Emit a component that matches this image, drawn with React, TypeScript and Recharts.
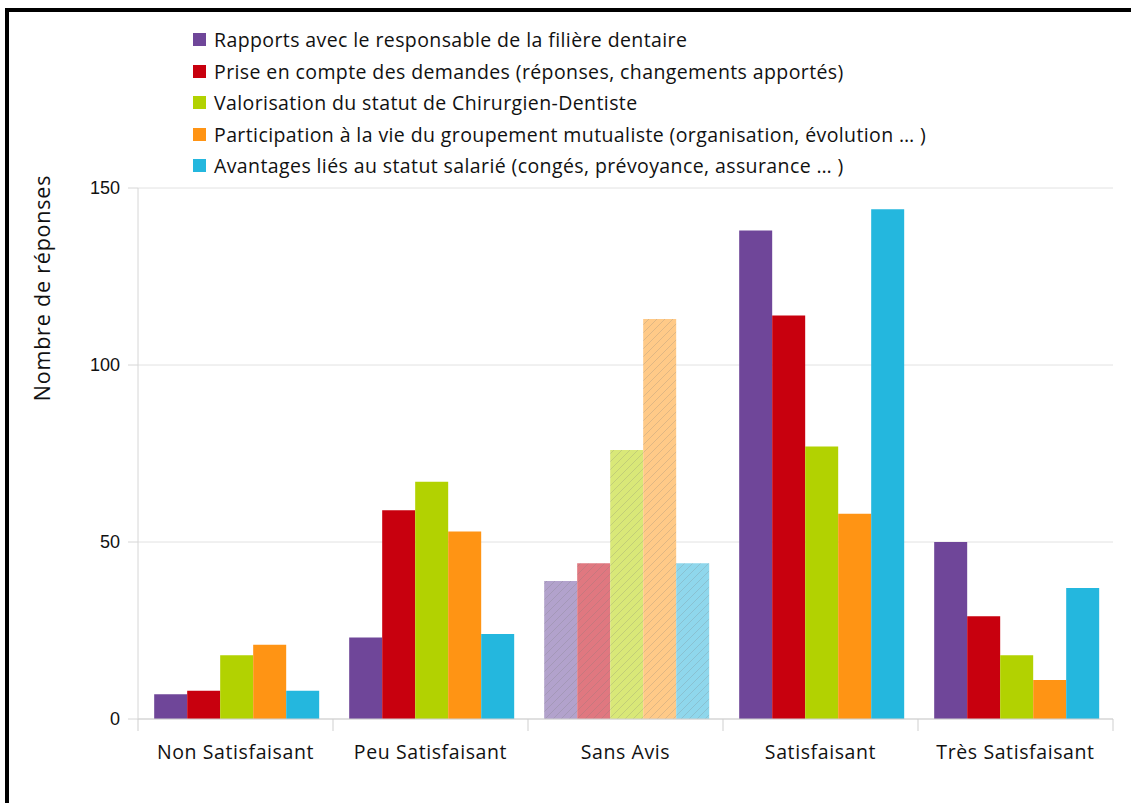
import React from 'react';
import { BarChart, Bar, XAxis, YAxis, CartesianGrid, Cell, Label } from 'recharts';

// Categories (x axis)
const categories = ['Non Satisfaisant', 'Peu Satisfaisant', 'Sans Avis', 'Satisfaisant', 'Très Satisfaisant'];

// Series values, one per category
const rapports = [7, 23, 39, 138, 50];
const priseEnCompte = [8, 59, 44, 114, 29];
const valorisation = [18, 67, 76, 77, 18];
const participation = [21, 53, 113, 58, 11];
const avantages = [8, 24, 44, 144, 37];

// Series labels
const seriesNames = [
  'Rapports avec le responsable de la filière dentaire',
  'Prise en compte des demandes (réponses, changements apportés)',
  'Valorisation du statut de Chirurgien-Dentiste',
  'Participation à la vie du groupement mutualiste (organisation, évolution … )',
  'Avantages liés au statut salarié (congés, prévoyance, assurance … )',
];

const yTicks = [0, 50, 100, 150];

// Category drawn with hatched, faded bars
const neutralCategory = 'Sans Avis';

const colors = ['#6f4699', '#c8000e', '#b2d201', '#ff9414', '#24b7de'];
const fadedColors = ['#b2a2cc', '#e07880', '#d9e878', '#ffca88', '#8fd7ec'];

const seriesKeys = ['s0', 's1', 's2', 's3', 's4'];
const seriesValues = [rapports, priseEnCompte, valorisation, participation, avantages];

const data = categories.map((cat, i) => {
  const row: Record<string, string | number> = { category: cat };
  seriesKeys.forEach((k, j) => {
    row[k] = seriesValues[j][i];
  });
  return row;
});

const FONT = '"Open Sans", Lato, sans-serif';
const TEXT = '#111111';

const WIDTH = 1131;
const HEIGHT = 803;
const MARGIN = { top: 188, right: 18, bottom: 44, left: 78 };
const Y_AXIS_WIDTH = 60;
const BAND = (WIDTH - MARGIN.left - MARGIN.right - Y_AXIS_WIDTH) / categories.length;

const XTick = (props: any) => {
  const { x, y, payload, index } = props;
  const left = x - BAND / 2;
  const right = x + BAND / 2;
  return (
    <g>
      <line x1={left} y1={y - 8} x2={left} y2={y + 4} stroke="#cfcfcf" />
      {index === categories.length - 1 && (
        <line x1={right} y1={y - 8} x2={right} y2={y + 4} stroke="#cfcfcf" />
      )}
      <text
        x={x}
        y={y + 32}
        textAnchor="middle"
        fontFamily={FONT}
        fontSize={19.5}
        letterSpacing={0.6}
        fill={TEXT}
      >
        {payload.value}
      </text>
    </g>
  );
};

export default function App() {
  return (
    <div
      style={{
        position: 'absolute',
        left: 0,
        top: 0,
        width: WIDTH,
        height: HEIGHT,
        background: '#ffffff',
        overflow: 'hidden',
      }}
    >
      {/* frame */}
      <div
        style={{
          position: 'absolute',
          left: 5,
          top: 8,
          width: WIDTH,
          height: HEIGHT,
          borderTop: '4px solid #000',
          borderLeft: '4px solid #000',
          boxSizing: 'border-box',
        }}
      />
      {/* legend */}
      <div
        style={{
          position: 'absolute',
          left: 193,
          top: 24,
          fontFamily: FONT,
          fontSize: 19.5,
          letterSpacing: 0.4,
          color: TEXT,
        }}
      >
        {seriesNames.map((name, i) => (
          <div key={name} style={{ display: 'flex', alignItems: 'center', height: 31.5 }}>
            <span style={{ display: 'inline-block', width: 13, height: 13, background: colors[i], marginRight: 8 }} />
            <span style={{ whiteSpace: 'nowrap' }}>{name}</span>
          </div>
        ))}
      </div>
      <div style={{ position: 'absolute', left: 0, top: 0 }}>
        <BarChart
          width={WIDTH}
          height={HEIGHT}
          data={data}
          margin={MARGIN}
          barCategoryGap="8.3%"
          barGap={0}
        >
          <defs>
            {fadedColors.map((c, i) => (
              <pattern key={i} id={`hatch-${i}`} patternUnits="userSpaceOnUse" width={8} height={8}>
                <rect x={0} y={0} width={8} height={8} fill={c} />
                <path
                  d="M-2,2 L2,-2 M0,8 L8,0 M6,10 L10,6"
                  stroke="#7a7a7a"
                  strokeOpacity={0.3}
                  strokeWidth={0.8}
                />
              </pattern>
            ))}
          </defs>
          <CartesianGrid vertical={false} stroke="#e2e2e2" />
          <XAxis
            dataKey="category"
            axisLine={{ stroke: '#cfcfcf' }}
            tickLine={false}
            tick={<XTick />}
            interval={0}
            height={40}
          />
          <YAxis
            domain={[0, 150]}
            ticks={yTicks}
            width={Y_AXIS_WIDTH}
            axisLine={{ stroke: '#d6d6d6' }}
            tickLine={{ stroke: '#d6d6d6' }}
            tickSize={10}
            tickMargin={8}
            tick={{ fontFamily: '"Liberation Sans", Arial, sans-serif', fontSize: 18, fill: TEXT }}
          >
            <Label
              content={() => (
                <text
                  transform="translate(50,288) rotate(-90)"
                  textAnchor="middle"
                  fontFamily={FONT}
                  fontSize={21.5}
                  letterSpacing={0.8}
                  fill={TEXT}
                >
                  Nombre de réponses
                </text>
              )}
            />
          </YAxis>
          <YAxis
            yAxisId="right"
            orientation="right"
            domain={[0, 150]}
            width={0}
            tick={false}
            tickLine={false}
            axisLine={{ stroke: '#d6d6d6' }}
          />
          {seriesKeys.map((k, j) => (
            <Bar key={k} dataKey={k} name={seriesNames[j]} fill={colors[j]} isAnimationActive={false}>
              {data.map((d) => (
                <Cell
                  key={String(d.category)}
                  fill={d.category === neutralCategory ? `url(#hatch-${j})` : colors[j]}
                />
              ))}
            </Bar>
          ))}
        </BarChart>
      </div>
    </div>
  );
}
